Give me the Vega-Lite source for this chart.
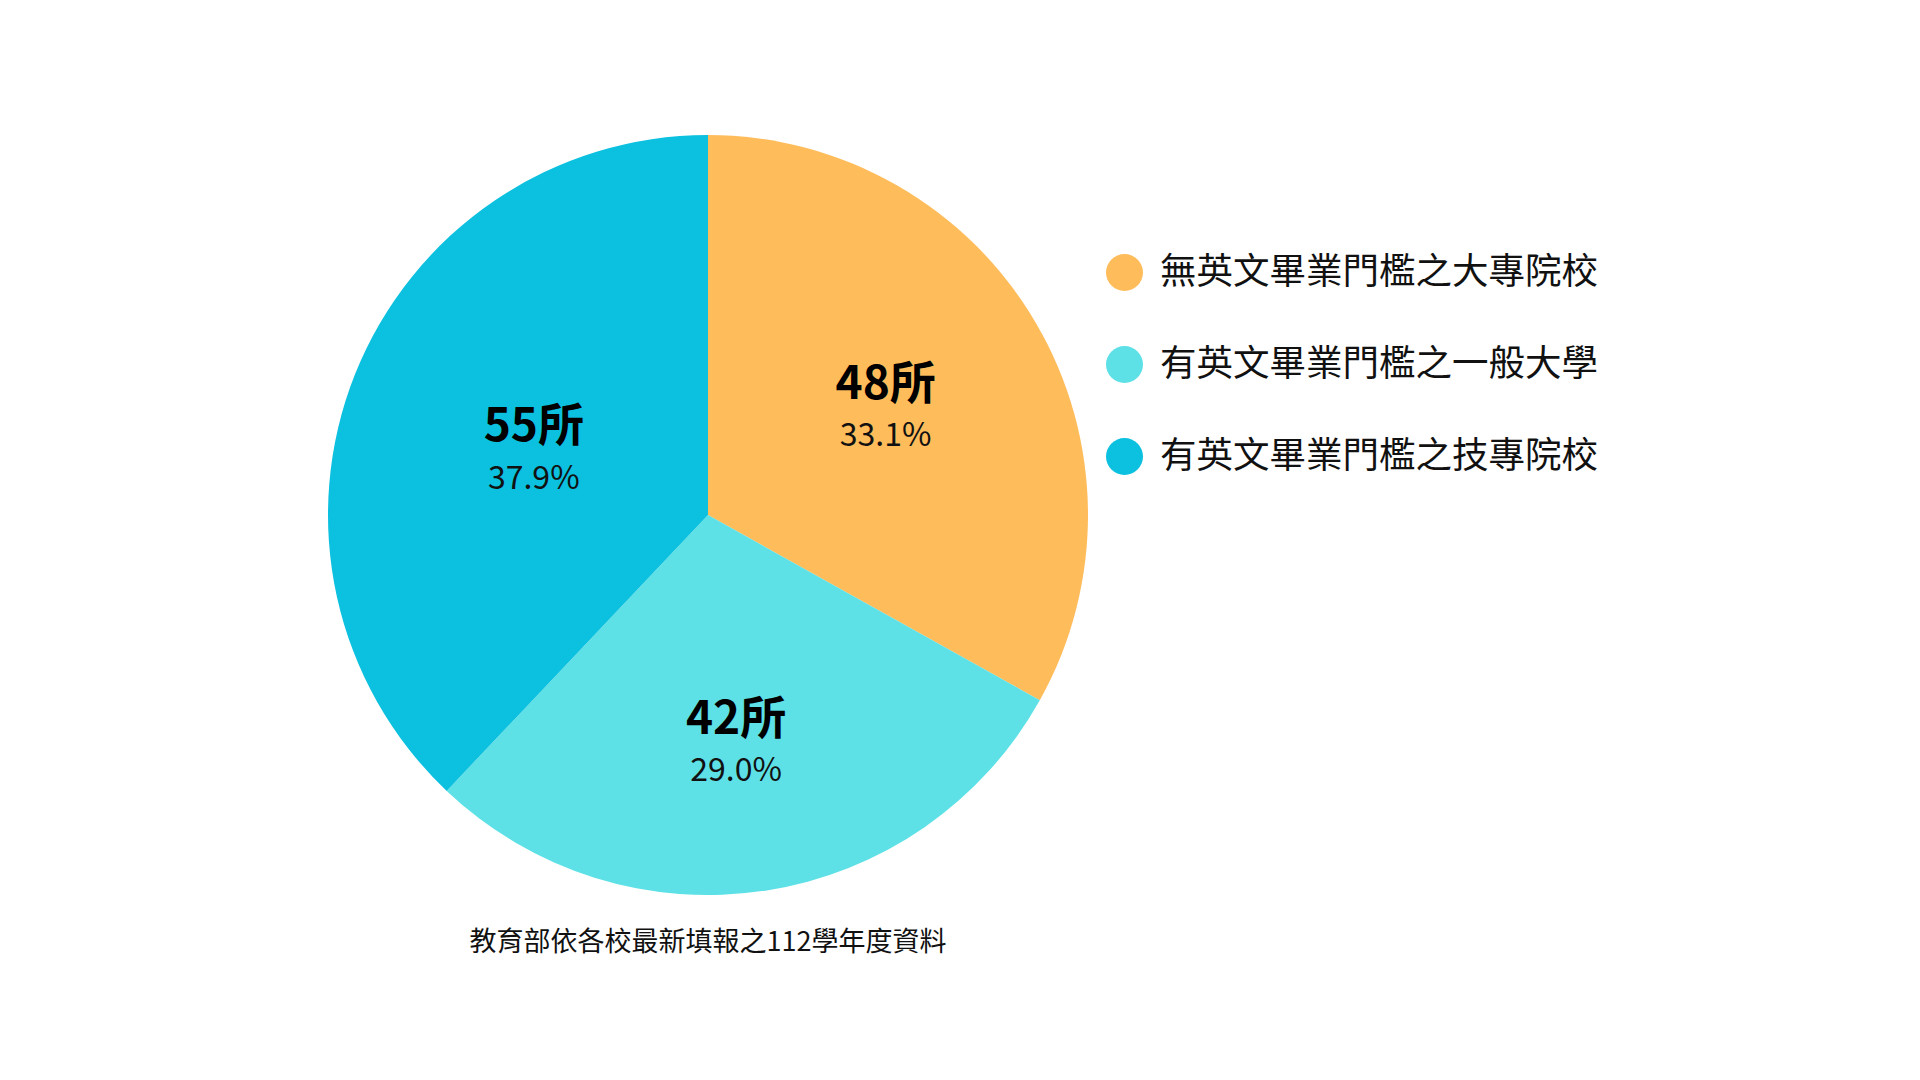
{
  "$schema": "https://vega.github.io/schema/vega-lite/v6.json",
  "width": 1416,
  "height": 1030,
  "padding": 0,
  "background": "white",
  "title": {
    "text": "教育部依各校最新填報之112學年度資料",
    "orient": "bottom",
    "anchor": "middle",
    "frame": "group",
    "offset": -100,
    "font": "Noto Sans CJK TC",
    "fontSize": 27,
    "fontWeight": "normal",
    "color": "#111111"
  },
  "config": {
    "view": {"stroke": null},
    "font": "Noto Sans CJK TC"
  },
  "data": {
    "values": [
      {"seq": 1, "name": "無英文畢業門檻之大專院校", "count": 48, "label": "48所", "pct": "33.1%"},
      {"seq": 2, "name": "有英文畢業門檻之一般大學", "count": 42, "label": "42所", "pct": "29.0%"},
      {"seq": 3, "name": "有英文畢業門檻之技專院校", "count": 55, "label": "55所", "pct": "37.9%"}
    ]
  },
  "encoding": {
    "theta": {"field": "count", "type": "quantitative", "stack": true},
    "order": {"field": "seq", "type": "quantitative"}
  },
  "layer": [
    {
      "mark": {"type": "arc", "outerRadius": 380},
      "encoding": {
        "color": {
          "field": "name",
          "type": "nominal",
          "sort": ["無英文畢業門檻之大專院校", "有英文畢業門檻之一般大學", "有英文畢業門檻之技專院校"],
          "scale": {
            "domain": ["無英文畢業門檻之大專院校", "有英文畢業門檻之一般大學", "有英文畢業門檻之技專院校"],
            "range": ["#FEBC5B", "#5DE1E6", "#0CC0DF"]
          },
          "legend": {
            "title": null,
            "orient": "none",
            "legendX": 1106,
            "legendY": 254,
            "symbolType": "circle",
            "symbolSize": 1369,
            "symbolStrokeWidth": 0,
            "labelFont": "Noto Sans CJK TC",
            "labelFontSize": 36.5,
            "labelColor": "#111111",
            "labelOffset": 17,
            "labelLimit": 800,
            "rowPadding": 55
          }
        }
      }
    },
    {
      "mark": {"type": "text", "radius": 206, "dy": -26, "fontSize": 46, "fontWeight": "bold", "color": "#000000", "font": "Noto Sans CJK TC"},
      "encoding": {"text": {"condition": {"test": "datum.seq == 1", "field": "label"}, "value": ""}}
    },
    {
      "mark": {"type": "text", "radius": 206, "dy": 25, "fontSize": 32, "color": "#111111", "font": "Noto Sans CJK TC"},
      "encoding": {"text": {"condition": {"test": "datum.seq == 1", "field": "pct"}, "value": ""}}
    },
    {
      "mark": {"type": "text", "radius": 232, "dx": -7, "dy": -24, "fontSize": 46, "fontWeight": "bold", "color": "#000000", "font": "Noto Sans CJK TC"},
      "encoding": {"text": {"condition": {"test": "datum.seq == 2", "field": "label"}, "value": ""}}
    },
    {
      "mark": {"type": "text", "radius": 232, "dx": -7, "dy": 27, "fontSize": 32, "color": "#111111", "font": "Noto Sans CJK TC"},
      "encoding": {"text": {"condition": {"test": "datum.seq == 2", "field": "pct"}, "value": ""}}
    },
    {
      "mark": {"type": "text", "radius": 180, "dx": -7, "dy": -21, "fontSize": 46, "fontWeight": "bold", "color": "#000000", "font": "Noto Sans CJK TC"},
      "encoding": {"text": {"condition": {"test": "datum.seq == 3", "field": "label"}, "value": ""}}
    },
    {
      "mark": {"type": "text", "radius": 180, "dx": -7, "dy": 31, "fontSize": 32, "color": "#111111", "font": "Noto Sans CJK TC"},
      "encoding": {"text": {"condition": {"test": "datum.seq == 3", "field": "pct"}, "value": ""}}
    }
  ]
}
